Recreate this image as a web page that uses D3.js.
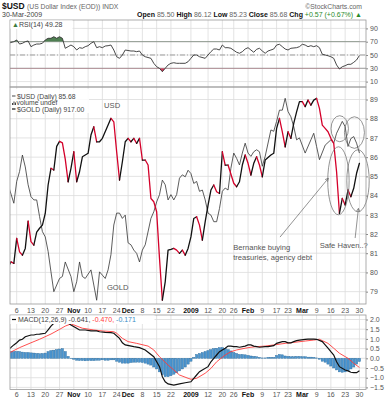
<!DOCTYPE html>
<html>
<head>
<meta charset="utf-8">
<title>$USD daily</title>
<script src="https://cdn.jsdelivr.net/npm/d3@7/dist/d3.min.js"></script>
<style>
  body { margin: 0; background: #fff; }
  svg { font-family: "Liberation Sans", Arial, sans-serif; }
</style>
</head>
<body>
<svg id="chart" width="388" height="400"></svg>
<script>
// x = trading day number, 0 = 2008-10-01 ... 123 = 2009-03-30
const xTicks = [[3,"6"],[8,"13"],[13,"20"],[18,"27"],[23,"Nov"],[28,"10"],[33,"17"],[38,"24"],
  [42,"Dec"],[47,"8"],[52,"15"],[57,"22"],[64,"2009"],[70,"12"],[75,"20"],[79,"26"],[84,"Feb"],
  [89,"9"],[94,"17"],[98,"23"],[103,"Mar"],[108,"9"],[113,"16"],[118,"23"],[123,"30"]];
const boldTicks = ["Nov","Dec","2009","Feb","Mar"];

// $USD daily close [day, value]
const usd = [[0,80.29],[1,80.55],[2,80.47],[3,81.77],[4,81.07],[5,80.90],[6,81.25],[7,82.67],[8,81.60],
  [9,81.42],[10,82.10],[11,82.30],[12,82.46],[13,83.07],[14,84.55],[15,85.42],[16,85.33],[17,86.56],
  [18,86.82],[19,86.74],[20,85.90],[21,84.72],[22,85.42],[23,86.28],[24,84.72],[25,85.24],[26,86.02],
  [27,86.11],[28,86.20],[29,87.15],[30,87.58],[31,86.80],[32,86.80],[33,86.98],[35,87.67],[36,88.02],
  [37,87.84],[38,86.28],[39,84.81],[40,85.76],[41,86.80],[42,86.98],[43,86.80],[44,86.98],[45,86.72],
  [46,86.98],[47,85.85],[48,85.85],[49,85.59],[50,83.85],[51,83.68],[52,83.16],[53,80.73],[54,78.56],
  [55,79.51],[56,81.16],[57,81.20],[58,81.25],[59,81.16],[60,80.99],[61,81.16],[62,80.90],[63,81.25],
  [64,81.85],[65,82.81],[66,82.90],[67,82.46],[68,81.68],[69,82.64],[70,83.50],[71,84.29],[72,84.55],
  [73,84.20],[74,84.11],[75,86.28],[76,85.59],[77,85.59],[79,84.64],[80,84.46],[81,84.72],[82,85.59],
  [83,86.11],[84,85.68],[85,85.07],[86,85.68],[87,86.02],[88,85.59],[89,84.98],[90,85.85],[92,86.11],
  [93,86.20],[94,87.50],[95,88.02],[96,87.32],[97,86.54],[98,87.32],[99,86.98],[100,87.76],[101,88.36],
  [102,88.89],[103,88.89],[104,88.63],[105,88.97],[106,88.71],[107,88.97],[108,89.06],[109,88.54],
  [110,87.67],[111,87.50],[112,87.32],[113,86.98],[114,86.72],[115,85.24],[116,83.07],[117,83.85],
  [118,83.51],[119,84.29],[120,83.94],[121,84.38],[122,85.16],[123,85.68]];

// $GOLD daily close [day, value]
const gold = [[0,869],[2,841],[3,874],[4,889],[5,914],[6,896],[7,869],[8,851],[9,846],[10,846],[11,821],
  [12,798],[13,790],[14,768],[15,737],[16,707],[18,727],[19,730],[20,752],[22,730],[23,707],[24,722],
  [25,752],[26,730],[27,727],[29,740],[30,717],[31,694],[32,737],[33,732],[34,727],[35,740],[36,763],
  [37,808],[38,826],[39,826],[40,818],[41,823],[42,781],[43,778],[44,770],[45,765],[46,752],[47,770],
  [48,778],[50,818],[51,828],[52,843],[53,854],[54,876],[55,869],[56,846],[57,854],[58,846],[59,854],
  [60,879],[61,884],[62,881],[63,891],[64,886],[65,871],[66,874],[67,859],[68,861],[69,846],[70,826],
  [71,823],[72,813],[73,813],[74,833],[75,859],[76,864],[77,861],[78,894],[79,917],[80,909],[81,899],
  [82,917],[83,932],[84,917],[85,912],[86,919],[87,922],[88,919],[89,897],[90,912],[92,952],[93,950],
  [94,965],[95,982],[96,982],[97,1000],[98,980],[99,972],[100,957],[101,937],[102,940],[104,917],
  [106,937],[107,947],[108,927],[109,907],[111,929],[113,937],[114,932],[115,947],[117,965],[118,957],
  [119,927],[120,939],[121,942],[122,932],[123,917]];

// RSI(14) [day, value]
const rsi = [[0,67.6],[2,70.0],[3,72.6],[4,66.5],[5,67.6],[6,70.0],[7,71.1],[8,62.5],[9,65.0],[10,66.5],
  [11,66.5],[12,67.6],[13,72.6],[14,75.1],[15,75.1],[16,77.5],[17,75.1],[18,77.5],[19,75.1],[20,60.1],
  [21,62.5],[22,65.0],[23,62.5],[24,57.5],[25,61.0],[26,60.1],[27,62.5],[28,64.0],[29,67.6],[30,70.0],
  [31,61.0],[32,62.5],[33,61.0],[34,63.5],[35,64.0],[36,65.0],[37,57.5],[38,47.4],[39,45.0],[40,50.0],
  [41,57.5],[43,56.0],[44,56.0],[45,55.0],[46,56.0],[47,50.0],[48,47.4],[50,45.0],[51,37.5],[52,32.4],
  [53,30.0],[54,24.9],[55,30.0],[56,35.0],[57,37.5],[58,38.4],[59,37.5],[60,37.5],[62,37.5],[63,39.9],
  [64,45.0],[65,50.0],[66,50.0],[67,47.4],[69,45.0],[70,50.0],[71,55.0],[72,59.0],[73,59.0],[74,57.5],
  [75,65.0],[76,61.0],[77,61.0],[78,60.1],[80,54.1],[81,52.6],[82,55.0],[83,59.0],[84,61.0],[85,57.5],
  [86,54.1],[87,58.6],[88,60.1],[89,56.0],[90,52.6],[91,56.0],[92,57.5],[93,59.0],[94,65.0],[95,66.1],
  [96,62.5],[97,59.0],[98,57.5],[99,60.1],[101,61.0],[102,62.5],[103,66.1],[104,65.0],[105,62.5],
  [106,64.0],[107,62.5],[108,64.0],[109,61.0],[110,51.1],[111,50.0],[112,48.9],[113,47.4],[114,45.0],
  [115,35.0],[116,28.9],[117,32.4],[118,33.9],[119,36.0],[120,36.0],[121,39.0],[122,42.5],[123,49.28]];

// MACD(12,26,9) line and signal [day, value]
const macd = [[0,0.43],[2,0.69],[3,0.80],[4,0.94],[5,0.98],[6,1.11],[8,1.20],[9,1.20],[10,1.24],[11,1.25],
  [13,1.29],[14,1.46],[15,1.66],[16,1.80],[17,1.86],[19,1.95],[20,1.92],[22,1.72],[24,1.55],[25,1.46],
  [27,1.46],[29,1.41],[31,1.41],[32,1.37],[34,1.34],[36,1.32],[37,1.29],[39,1.03],[40,0.80],[41,0.69],
  [44,0.60],[46,0.55],[48,0.43],[51,0.08],[53,-0.43],[54,-0.95],[55,-1.21],[56,-1.32],[58,-1.38],
  [60,-1.32],[62,-1.26],[64,-1.21],[65,-1.03],[66,-0.86],[67,-0.69],[68,-0.60],[70,-0.43],[71,-0.18],
  [72,0],[73,0.17],[74,0.34],[76,0.52],[77,0.63],[78,0.63],[79,0.60],[80,0.60],[81,0.57],[83,0.63],
  [84,0.69],[85,0.69],[86,0.63],[87,0.60],[88,0.57],[90,0.60],[91,0.60],[93,0.65],[94,0.77],[96,0.86],
  [97,0.86],[98,0.80],[99,0.80],[100,0.86],[101,0.91],[102,0.94],[104,0.98],[105,0.99],[106,0.99],
  [107,0.99],[108,0.98],[110,0.86],[111,0.69],[112,0.52],[113,0.34],[114,0.17],[115,-0.18],[116,-0.43],
  [118,-0.60],[119,-0.65],[120,-0.72],[121,-0.74],[122,-0.74],[123,-0.641]];
const signal = [[0,0.25],[4,0.55],[8,0.80],[11,0.98],[15,1.25],[18,1.49],[20,1.66],[22,1.77],[23,1.72],
  [26,1.55],[30,1.46],[33,1.41],[37,1.37],[38,1.29],[40,1.03],[42,0.86],[45,0.77],[49,0.63],[51,0.43],
  [53,0.08],[56,-0.35],[58,-0.60],[60,-0.86],[63,-1.03],[64,-1.08],[66,-1.03],[69,-0.77],[71,-0.52],
  [73,-0.18],[76,0.17],[78,0.34],[80,0.43],[83,0.52],[85,0.57],[87,0.60],[90,0.63],[93,0.69],[97,0.77],
  [100,0.82],[104,0.89],[107,0.94],[109,0.98],[110,0.91],[112,0.77],[114,0.52],[116,0.26],[119,0],
  [121,-0.26],[123,-0.47]];
// MACD histogram, one bar per trading day 0..123
const hist = [0.35,0.35,0.35,0.35,0.35, 0.32,0.3,0.3,0.28,0.27, 0.25,0.24,0.25,0.27,
  0.35,0.4,0.42,0.45,0.48, 0.5,0.35,0.1,
  -0.02,-0.05,-0.1,-0.12,-0.12,-0.13,-0.12,-0.12, -0.12,-0.1,-0.1,-0.08,-0.1,-0.1,-0.08,-0.08,
  -0.15,-0.2,-0.25,-0.25, -0.25,-0.22,-0.2,-0.2,-0.2,-0.22, -0.25,-0.3,-0.35,-0.45,
  -0.55,-0.7,-0.85, -0.95,-0.95,-0.9, -0.82,-0.75,-0.65,-0.55,-0.45,-0.3, -0.15,0.05,
  0.2,0.25,0.3,0.35,0.4,0.45,0.5,0.52,0.55,0.55,0.5,0.45,
  0.38,0.3,0.25,0.2,0.2,0.18,0.15,0.12,0.1,0.08,0.05,0.02,0.02, 0.05,0.05,0.05,
  0.15,0.2,0.18,0.12,0.1,0.08,0.08,0.1,0.1,0.08,0.08,0.06,0.06,0.05,0.02,
  -0.05,-0.15,-0.2,-0.3,-0.4,-0.5,-0.6,-0.7,-0.72,-0.7,-0.65,-0.55,-0.45,-0.3,-0.17];

const mainTicks = d3.range(79, 90);
const rsiTicks = [10, 30, 50, 70, 90];
const macdTicks = [-1.5, -1, -0.5, 0, 0.5, 1, 1.5, 2];

const svg = d3.select("#chart");
const L = 10, R = 366;
const P = { rsi: [20, 87], main: [87, 304], macd: [315, 389.5] };

const x = d3.scaleLinear().domain([0.655, 125.3]).range([L, R]);
const yUsd = d3.scaleLinear().domain([78.357, 89.651]).range([P.main[1], P.main[0]]);
const yGold = d3.scaleLinear().domain([688.3, 1017.1]).range([P.main[1], P.main[0]]);
const yRsi = d3.scaleLinear().domain([1.88, 102.63]).range([P.rsi[1], P.rsi[0]]);
const yMacd = d3.scaleLinear().domain([-1.608, 2.232]).range([P.macd[1], P.macd[0]]);

const RED = "#d4002a";

// clip paths per panel
const defs = svg.append("defs");
Object.entries(P).forEach(([k, p]) => {
  defs.append("clipPath").attr("id", "clip-" + k)
    .append("rect").attr("x", L).attr("y", p[0]).attr("width", R - L).attr("height", p[1] - p[0]);
});

// grids + right axes
function panel(key, yScale, ticks, fmt) {
  const p = P[key];
  const g = svg.append("g");
  g.selectAll(".vg").data(xTicks).join("line")
    .attr("x1", d => x(d[0])).attr("x2", d => x(d[0]))
    .attr("y1", p[0]).attr("y2", p[1]).attr("stroke", "#dcdcdc").attr("stroke-width", 0.8);
  g.selectAll(".hg").data(ticks).join("line")
    .attr("x1", L).attr("x2", R).attr("y1", d => yScale(d)).attr("y2", d => yScale(d))
    .attr("stroke", "#dcdcdc").attr("stroke-width", 0.8);
  const ax = svg.append("g").attr("transform", `translate(${R},0)`)
    .call(d3.axisRight(yScale).tickValues(ticks).tickSize(2).tickPadding(2).tickFormat(fmt));
  ax.select(".domain").remove();
  ax.selectAll("line").attr("stroke", "#888");
  ax.selectAll("text").attr("font-size", 7).attr("fill", "#555")
    .attr("font-family", "Liberation Sans, Arial, sans-serif");
  return g;
}
panel("rsi", yRsi, rsiTicks, d3.format("d"));
panel("main", yUsd, mainTicks, d3.format("d"));
panel("macd", yMacd, macdTicks, d3.format(".1f"));

// ---- RSI panel
const rsiG = svg.append("g").attr("clip-path", "url(#clip-rsi)");
[[70, "#999", null], [30, "#999", null], [50, "#999", "5,2,1,2"]].forEach(([v, c, dash]) => {
  rsiG.append("line").attr("x1", L).attr("x2", R).attr("y1", yRsi(v)).attr("y2", yRsi(v))
    .attr("stroke", c).attr("stroke-width", 0.9).attr("stroke-dasharray", dash);
});
defs.append("clipPath").attr("id", "rsi-hi").append("rect")
  .attr("x", L).attr("y", P.rsi[0]).attr("width", R - L).attr("height", yRsi(70) - P.rsi[0]);
defs.append("clipPath").attr("id", "rsi-lo").append("rect")
  .attr("x", L).attr("y", yRsi(30)).attr("width", R - L).attr("height", P.rsi[1] - yRsi(30));
rsiG.append("path").datum(rsi).attr("clip-path", "url(#rsi-hi)")
  .attr("d", d3.area().x(d => x(d[0])).y0(yRsi(70)).y1(d => yRsi(d[1])))
  .attr("fill", "#4f7f52");
rsiG.append("path").datum(rsi).attr("clip-path", "url(#rsi-lo)")
  .attr("d", d3.area().x(d => x(d[0])).y0(yRsi(30)).y1(d => yRsi(d[1])))
  .attr("fill", "#d23a5a");
rsiG.append("path").datum(rsi)
  .attr("d", d3.line().x(d => x(d[0])).y(d => yRsi(d[1])))
  .attr("fill", "none").attr("stroke", "#333").attr("stroke-width", 0.9);

// ---- main panel
const mainG = svg.append("g").attr("clip-path", "url(#clip-main)");
mainG.append("path").datum(gold)
  .attr("d", d3.line().x(d => x(d[0])).y(d => yGold(d[1])))
  .attr("fill", "none").attr("stroke", "#333").attr("stroke-width", 0.8);
const usdLine = d3.line().x(d => x(d[0])).y(d => yUsd(d[1]));
// consecutive runs of up / down days, black up, red down
let run = [usd[0]], dir = null;
const runs = [];
for (let k = 1; k < usd.length; k++) {
  const dn = usd[k][1] < usd[k - 1][1];
  if (dir !== null && dn !== dir) { runs.push({ pts: run, dn: dir }); run = [usd[k - 1]]; }
  run.push(usd[k]); dir = dn;
}
runs.push({ pts: run, dn: dir });
mainG.selectAll(".usd").data(runs).join("path")
  .attr("d", d => usdLine(d.pts)).attr("fill", "none")
  .attr("stroke", d => d.dn ? RED : "#111").attr("stroke-width", 1.3)
  .attr("stroke-linejoin", "round").attr("stroke-linecap", "round");

// annotations in data coordinates (day, $USD)
const ann = svg.append("g").attr("fill", "none").attr("stroke", "#666").attr("stroke-width", 0.7);
const ellipses = [[116.1, 87.48, 8.7, 13], [121.25, 87.28, 10, 15.8], [115.65, 84.77, 10.7, 34], [122.5, 84.77, 11.2, 31]];
ann.selectAll("ellipse").data(ellipses).join("ellipse")
  .attr("cx", d => x(d[0])).attr("cy", d => yUsd(d[1])).attr("rx", d => d[2]).attr("ry", d => d[3]);
const arrows = [[[95.2, 81.84], [112.1, 84.90]], [[121.5, 81.79], [122.65, 83.33]]];
arrows.forEach(([a, b]) => {
  const x1 = x(a[0]), y1 = yUsd(a[1]), x2 = x(b[0]), y2 = yUsd(b[1]);
  ann.append("line").attr("x1", x1).attr("y1", y1).attr("x2", x2).attr("y2", y2);
  const ang = Math.atan2(y2 - y1, x2 - x1);
  const h = 3.5;
  ann.append("path").attr("d", `M${x2 - h * Math.cos(ang - 0.5)},${y2 - h * Math.sin(ang - 0.5)}L${x2},${y2}L${x2 - h * Math.cos(ang + 0.5)},${y2 - h * Math.sin(ang + 0.5)}`);
});
const notes = [[78.8, 81.16, "Bernanke buying"], [78.8, 80.64, "treasuries, agency debt"], [109.1, 81.27, "Safe Haven..?"],
  [33.6, 88.58, "USD"], [34.6, 79.1, "GOLD"]];
svg.selectAll(".note").data(notes).join("text")
  .attr("x", d => x(d[0])).attr("y", d => yUsd(d[1])).text(d => d[2])
  .attr("font-size", 7.6).attr("fill", "#555");

// legend
const lg = svg.append("g").attr("font-size", 6.8).attr("fill", "#444");
lg.append("rect").attr("x", L + 1).attr("y", 89).attr("width", 78).attr("height", 24).attr("fill", "#fff").attr("opacity", 0.85);
lg.append("line").attr("x1", 12).attr("x2", 15.5).attr("y1", 96).attr("y2", 96).attr("stroke", "#666").attr("stroke-width", 1.2);
lg.append("text").attr("x", 17).attr("y", 98.5).text("$USD (Daily) 85.68");
[[12, 2], [13.5, 3.5], [15, 2.5]].forEach(([bx, bh]) =>
  lg.append("rect").attr("x", bx).attr("y", 105 - bh).attr("width", 1).attr("height", bh).attr("fill", "#444"));
lg.append("text").attr("x", 16.5).attr("y", 105).text("volume undef");
lg.append("line").attr("x1", 12).attr("x2", 15.5).attr("y1", 109).attr("y2", 109).attr("stroke", "#111").attr("stroke-width", 1.2);
lg.append("text").attr("x", 17).attr("y", 111.5).text("$GOLD (Daily) 917.00");

// ---- MACD panel
const macdG = svg.append("g").attr("clip-path", "url(#clip-macd)");
const bw = (x(1) - x(0)) * 0.8;
macdG.selectAll(".bar").data(hist).join("rect")
  .attr("x", (d, i) => x(i) - bw / 2).attr("width", bw)
  .attr("y", d => yMacd(Math.max(0, d))).attr("height", d => Math.abs(yMacd(d) - yMacd(0)))
  .attr("fill", "#4a94cf").attr("stroke", "#2b6b9c").attr("stroke-width", 0.4);
macdG.append("path").datum(signal)
  .attr("d", d3.line().x(d => x(d[0])).y(d => yMacd(d[1])))
  .attr("fill", "none").attr("stroke", "#ff3b3b").attr("stroke-width", 0.9);
macdG.append("path").datum(macd)
  .attr("d", d3.line().x(d => x(d[0])).y(d => yMacd(d[1])))
  .attr("fill", "none").attr("stroke", "#111").attr("stroke-width", 1.2);

// panel borders
Object.values(P).forEach(p => {
  svg.append("rect").attr("x", L).attr("y", p[0]).attr("width", R - L).attr("height", p[1] - p[0])
    .attr("fill", "none").attr("stroke", "#999").attr("stroke-width", 0.8);
});

// panel labels
const rl = svg.append("g");
rl.append("rect").attr("x", L + 0.5).attr("y", P.rsi[0] + 0.5).attr("width", 62).attr("height", 8.5).attr("fill", "#fff");
rl.append("text").attr("x", 12).attr("y", 27).attr("font-size", 7)
  .call(t => { t.append("tspan").attr("fill", "#3d7a3d").text("▲");
               t.append("tspan").attr("fill", "#444").text("RSI(14) 49.28"); });
const ml = svg.append("g");
ml.append("rect").attr("x", L + 0.5).attr("y", P.macd[0] + 0.5).attr("width", 144).attr("height", 8.5).attr("fill", "#fff");
ml.append("line").attr("x1", 12).attr("x2", 16).attr("y1", 319.5).attr("y2", 319.5).attr("stroke", "#111").attr("stroke-width", 1.2);
ml.append("text").attr("x", 18).attr("y", 322).attr("font-size", 7)
  .call(t => { t.append("tspan").attr("fill", "#444").text("MACD(12,26,9) -0.641, ");
               t.append("tspan").attr("fill", "#ff3b3b").text("-0.470, ");
               t.append("tspan").attr("fill", "#3a8cc6").text("-0.171"); });

// x-axis labels below main and macd panels
[312.5, 397].forEach(yy => {
  svg.append("g").selectAll("text").data(xTicks).join("text")
    .attr("x", d => x(d[0])).attr("y", yy).attr("text-anchor", "middle")
    .attr("font-size", 7)
    .attr("font-weight", d => boldTicks.includes(d[1]) ? "bold" : "normal")
    .attr("fill", d => boldTicks.includes(d[1]) ? "#111" : "#555")
    .text(d => d[1]);
});

// header
svg.append("text").attr("x", 2).attr("y", 9).attr("font-size", 8.5).attr("font-weight", "bold").attr("fill", "#111").text("$USD");
svg.append("text").attr("x", 27).attr("y", 9).attr("font-size", 6.8).attr("fill", "#666").text("(US Dollar Index (EOD)) INDX");
svg.append("text").attr("x", 362).attr("y", 9).attr("text-anchor", "end").attr("font-size", 6.8).attr("fill", "#666").text("©StockCharts.com");
svg.append("text").attr("x", 2).attr("y", 17).attr("font-size", 7).attr("fill", "#444").text("30-Mar-2009");
const q = svg.append("text").attr("x", 362).attr("y", 17).attr("text-anchor", "end").attr("font-size", 7);
[["Open ", 1], ["85.50 ", 0], ["High ", 1], ["86.12 ", 0], ["Low ", 1], ["85.23 ", 0], ["Close ", 1], ["85.68 ", 0], ["Chg ", 1]]
  .forEach(([s, b]) => q.append("tspan").attr("font-weight", b ? "bold" : "normal").attr("fill", b ? "#111" : "#666").text(s));
q.append("tspan").attr("fill", "#2a8a2a").text("+0.57 (+0.67%) ▲");
</script>
</body>
</html>
